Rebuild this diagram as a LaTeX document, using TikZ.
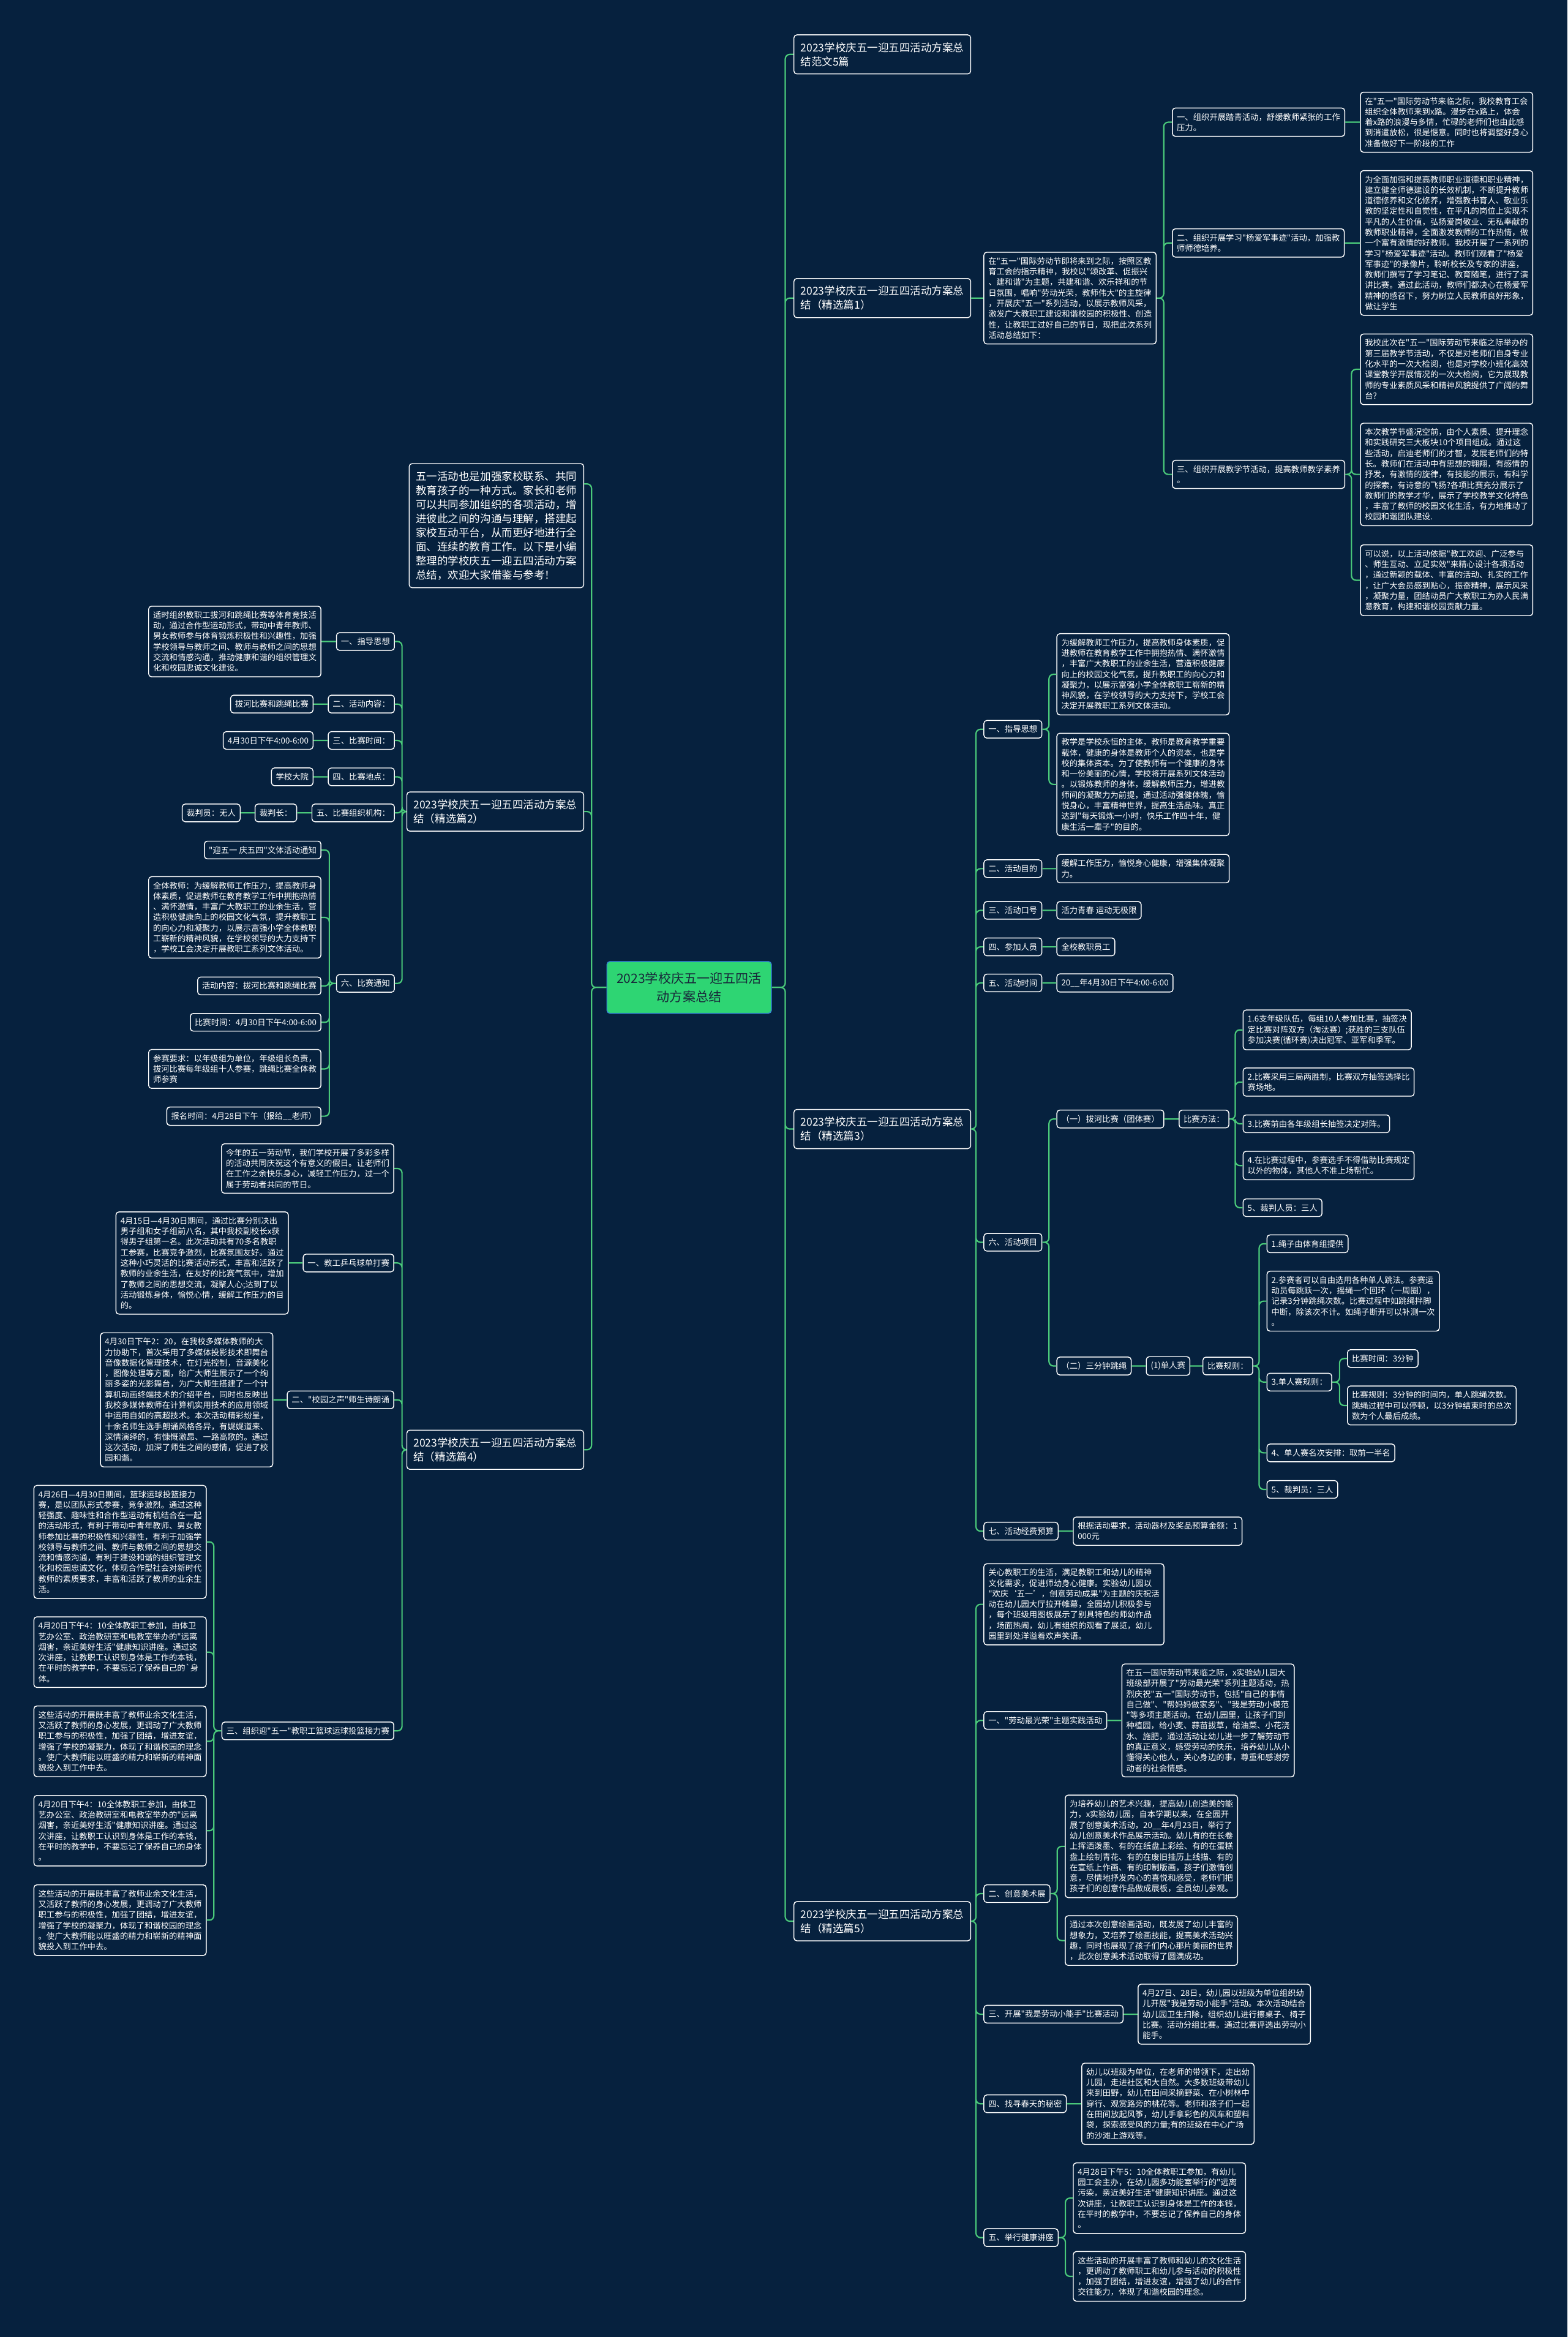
\documentclass[tikz,border=0pt]{standalone}
\usepackage{fontspec}
\setmainfont{Noto Sans CJK SC}[Ligatures=TeXOff]
\usepackage{xcolor}
\usepackage{tikz}
\usetikzlibrary{positioning}
\definecolor{bgnavy}{RGB}{6,33,62}
\definecolor{linkgreen}{RGB}{74,201,122}
\definecolor{rootgreen}{RGB}{46,213,115}
\definecolor{rootedge}{RGB}{52,140,210}
\definecolor{roottext}{RGB}{24,40,58}
\tikzset{leaf node/.style={draw=white,fill=bgnavy,text=white,rounded corners=2mm,line width=0.6mm,align=left,inner xsep=3mm,inner ysep=3.4mm,font=\fontsize{15.6pt}{20.2pt}\selectfont},
topic node/.style={leaf node,inner xsep=4.5mm,inner ysep=5mm,font=\fontsize{20.5pt}{27pt}\selectfont},
root node/.style={fill=rootgreen,draw=rootedge,text=roottext,rounded corners=2mm,line width=0.6mm,align=center,inner xsep=6.5mm,inner ysep=7mm,font=\fontsize{24.7pt}{35.9pt}\selectfont},
link/.style={draw=linkgreen,line width=0.9mm,rounded corners=3mm},}

\begin{document}
\begin{tikzpicture}[x=1mm,y=-1mm]
	\fill[bgnavy] (0,0) rectangle (1052,1568);

	\node[root node] (root) at (462.5,662.5) {2023学校庆五一迎五四活\\动方案总结};

	% right side
	\node[topic node,anchor=west] (t1) at (532.5,36.5) {2023学校庆五一迎五四活动方案总\\结范文5篇};
	\node[topic node,anchor=west] (t2) at (532.5,200) {2023学校庆五一迎五四活动方案总\\结（精选篇1）};
	\node[topic node,anchor=west] (t3) at (532.5,757.5) {2023学校庆五一迎五四活动方案总\\结（精选篇3）};
	\node[topic node,anchor=west] (t5) at (532.5,1289) {2023学校庆五一迎五四活动方案总\\结（精选篇5）};

	% left side
	\node[topic node,anchor=east] (intro) at (392,352.7) {五一活动也是加强家校联系、共同\\教育孩子的一种方式。家长和老师\\可以共同参加组织的各项活动，增\\进彼此之间的沟通与理解，搭建起\\家校互动平台，从而更好地进行全\\面、连续的教育工作。以下是小编\\整理的学校庆五一迎五四活动方案\\总结，欢迎大家借鉴与参考！};
	\node[topic node,anchor=east] (l2) at (392,544.5) {2023学校庆五一迎五四活动方案总\\结（精选篇2）};
	\node[topic node,anchor=east] (l4) at (392,972.7) {2023学校庆五一迎五四活动方案总\\结（精选篇4）};

	\begin{scope}
	\node[leaf node,anchor=west] (p1) at (660,200) {在"五一"国际劳动节即将来到之际，按照区教\\育工会的指示精神，我校以"颂改革、促振兴\\、建和谐"为主题，共建和谐、欢乐祥和的节\\日氛围，唱响"劳动光荣，教师伟大"的主旋律\\，开展庆"五一"系列活动，以展示教师风采，\\激发广大教职工建设和谐校园的积极性、创造\\性，让教职工过好自己的节日，现把此次系列\\活动总结如下：};
	\node[leaf node,anchor=west] (a1) at (786.5,82) {一、组织开展踏青活动，舒缓教师紧张的工作\\压力。};
	\node[leaf node,anchor=west] (a2) at (786.5,163) {二、组织开展学习"杨爱军事迹"活动，加强教\\师师德培养。};
	\node[leaf node,anchor=west] (a3) at (786.5,318.3) {三、组织开展教学节活动，提高教师教学素养\\。};
	\node[leaf node,anchor=west] (b1) at (912.7,82) {在"五一"国际劳动节来临之际，我校教育工会\\组织全体教师来到x路。漫步在x路上，体会\\着x路的浪漫与多情，忙碌的老师们也由此感\\到消遣放松，很是惬意。同时也将调整好身心\\准备做好下一阶段的工作};
	\node[leaf node,anchor=west] (b2) at (912.7,163) {为全面加强和提高教师职业道德和职业精神，\\建立健全师德建设的长效机制，不断提升教师\\道德修养和文化修养，增强教书育人、敬业乐\\教的坚定性和自觉性，在平凡的岗位上实现不\\平凡的人生价值，弘扬爱岗敬业、无私奉献的\\教师职业精神，全面激发教师的工作热情，做\\一个富有激情的好教师。我校开展了一系列的\\学习"杨爱军事迹"活动。教师们观看了"杨爱\\军事迹"的录像片，聆听校长及专家的讲座，\\教师们撰写了学习笔记、教育随笔，进行了演\\讲比赛。通过此活动，教师们都决心在杨爱军\\精神的感召下，努力树立人民教师良好形象，\\做让学生};
	\node[leaf node,anchor=west] (b3) at (912.7,247.8) {我校此次在"五一"国际劳动节来临之际举办的\\第三届教学节活动，不仅是对老师们自身专业\\化水平的一次大检阅，也是对学校小班化高效\\课堂教学开展情况的一次大检阅，它为展现教\\师的专业素质风采和精神风貌提供了广阔的舞\\台?};
	\node[leaf node,anchor=west] (b4) at (912.7,318.3) {本次教学节盛况空前，由个人素质、提升理念\\和实践研究三大板块10个项目组成。通过这\\些活动，启迪老师们的才智，发展老师们的特\\长。教师们在活动中有思想的翱翔，有感情的\\抒发，有激情的旋律，有技能的展示，有科学\\的探索，有诗意的飞扬?各项比赛充分展示了\\教师们的教学才华，展示了学校教学文化特色\\，丰富了教师的校园文化生活，有力地推动了\\校园和谐团队建设.};
	\node[leaf node,anchor=west] (b5) at (912.7,389.3) {可以说，以上活动依据"教工欢迎、广泛参与\\、师生互动、立足实效"来精心设计各项活动\\，通过新颖的载体、丰富的活动、扎实的工作\\，让广大会员感到贴心，振奋精神，展示风采\\，凝聚力量，团结动员广大教职工为办人民满\\意教育，构建和谐校园贡献力量。};
	\end{scope}

	\begin{scope}
	\node[leaf node,anchor=west] (c1) at (660,489.3) {一、指导思想};
	\node[leaf node,anchor=west] (k1) at (709,452.4) {为缓解教师工作压力，提高教师身体素质，促\\进教师在教育教学工作中拥抱热情、满怀激情\\，丰富广大教职工的业余生活，营造积极健康\\向上的校园文化气氛，提升教职工的向心力和\\凝聚力，以展示富强小学全体教职工崭新的精\\神风貌，在学校领导的大力支持下，学校工会\\决定开展教职工系列文体活动。};
	\node[leaf node,anchor=west] (k2) at (709,526.3) {教学是学校永恒的主体，教师是教育教学重要\\载体，健康的身体是教师个人的资本，也是学\\校的集体资本。为了使教师有一个健康的身体\\和一份美丽的心情，学校将开展系列文体活动\\。以锻炼教师的身体，缓解教师压力，增进教\\师间的凝聚力为前提，通过活动强健体魄，愉\\悦身心，丰富精神世界，提高生活品味。真正\\达到"每天锻炼一小时，快乐工作四十年，健\\康生活一辈子"的目的。};
	\node[leaf node,anchor=west] (c2) at (660,582.8) {二、活动目的};
	\node[leaf node,anchor=west] (k3) at (709,582.8) {缓解工作压力，愉悦身心健康，增强集体凝聚\\力。};
	\node[leaf node,anchor=west] (c3) at (660,610.8) {三、活动口号};
	\node[leaf node,anchor=west] (k4) at (709,610.8) {活力青春 运动无极限};
	\node[leaf node,anchor=west] (c4) at (660,635.3) {四、参加人员};
	\node[leaf node,anchor=west] (k5) at (709,635.3) {全校教职员工};
	\node[leaf node,anchor=west] (c5) at (660,659.5) {五、活动时间};
	\node[leaf node,anchor=west] (k6) at (709,659.5) {20\_\_年4月30日下午4:00-6:00};
	\node[leaf node,anchor=west] (c6) at (660,833.5) {六、活动项目};
	\node[leaf node,anchor=west] (d1) at (709,750.8) {（一）拔河比赛（团体赛）};
	\node[leaf node,anchor=west] (m0) at (791,750.8) {比赛方法：};
	\node[leaf node,anchor=west] (r1) at (834,691) {1.6支年级队伍，每组10人参加比赛，抽签决\\定比赛对阵双方（淘汰赛）;获胜的三支队伍\\参加决赛(循环赛)决出冠军、亚军和季军。};
	\node[leaf node,anchor=west] (r2) at (834,726) {2.比赛采用三局两胜制，比赛双方抽签选择比\\赛场地。};
	\node[leaf node,anchor=west] (r3) at (834,754) {3.比赛前由各年级组长抽签决定对阵。};
	\node[leaf node,anchor=west] (r4) at (834,782) {4.在比赛过程中，参赛选手不得借助比赛规定\\以外的物体，其他人不准上场帮忙。};
	\node[leaf node,anchor=west] (r5) at (834,810.3) {5、裁判人员：三人};
	\node[leaf node,anchor=west] (d2) at (709,916.5) {（二）三分钟跳绳};
	\node[leaf node,anchor=west] (j1) at (769,916.5) {(1)单人赛};
	\node[leaf node,anchor=west] (j2) at (807,916.5) {比赛规则：};
	\node[leaf node,anchor=west] (q1) at (850,834.5) {1.绳子由体育组提供};
	\node[leaf node,anchor=west] (q2) at (850,873) {2.参赛者可以自由选用各种单人跳法。参赛运\\动员每跳跃一次，摇绳一个回环（一周圈），\\记录3分钟跳绳次数。比赛过程中如跳绳拌脚\\中断，除该次不计。如绳子断开可以补测一次\\。};
	\node[leaf node,anchor=west] (q3) at (850,927.3) {3.单人赛规则：};
	\node[leaf node,anchor=west] (q6) at (904,911.5) {比赛时间：3分钟};
	\node[leaf node,anchor=west] (q7) at (904,943) {比赛规则：3分钟的时间内，单人跳绳次数。\\跳绳过程中可以停顿，以3分钟结束时的总次\\数为个人最后成绩。};
	\node[leaf node,anchor=west] (q4) at (850,974.8) {4、单人赛名次安排：取前一半名};
	\node[leaf node,anchor=west] (q5) at (850,999.3) {5、裁判员：三人};
	\node[leaf node,anchor=west] (c7) at (660,1027.3) {七、活动经费预算};
	\node[leaf node,anchor=west] (k7) at (720,1027.3) {根据活动要求，活动器材及奖品预算金额：1\\000元};
	\end{scope}

	\begin{scope}
	\node[leaf node,anchor=west] (e0) at (660,1076.4) {关心教职工的生活，满足教职工和幼儿的精神\\文化需求，促进师幼身心健康。实验幼儿园以\\"欢庆‘五一’，创意劳动成果"为主题的庆祝活\\动在幼儿园大厅拉开帷幕，全园幼儿积极参与\\，每个班级用图板展示了别具特色的师幼作品\\，场面热闹，幼儿有组织的观看了展览，幼儿\\园里到处洋溢着欢声笑语。};
	\node[leaf node,anchor=west] (e1) at (660,1154.3) {一、"劳动最光荣"主题实践活动};
	\node[leaf node,anchor=west] (h1) at (752.6,1154.3) {在五一国际劳动节来临之际，x实验幼儿园大\\班级部开展了"劳动最光荣"系列主题活动，热\\烈庆祝"五一"国际劳动节，包括"自己的事情\\自己做"、"帮妈妈做家务"、"我是劳动小模范\\"等多项主题活动。在幼儿园里，让孩子们到\\种植园，给小麦、蒜苗拔草，给油菜、小花浇\\水、施肥，通过活动让幼儿进一步了解劳动节\\的真正意义，感受劳动的快乐，培养幼儿从小\\懂得关心他人，关心身边的事，尊重和感谢劳\\动者的社会情感。};
	\node[leaf node,anchor=west] (e2) at (660,1270.5) {二、创意美术展};
	\node[leaf node,anchor=west] (h2) at (714.6,1238.8) {为培养幼儿的艺术兴趣，提高幼儿创造美的能\\力，x实验幼儿园，自本学期以来，在全园开\\展了创意美术活动，20\_\_年4月23日，举行了\\幼儿创意美术作品展示活动。幼儿有的在长卷\\上挥洒泼墨、有的在纸盘上彩绘、有的在蛋糕\\盘上绘制青花、有的在废旧挂历上线描、有的\\在宣纸上作画、有的印制版画，孩子们激情创\\意，尽情地抒发内心的喜悦和感受，老师们把\\孩子们的创意作品做成展板，全员幼儿参观。};
	\node[leaf node,anchor=west] (h3) at (714.6,1302) {通过本次创意绘画活动，既发展了幼儿丰富的\\想象力，又培养了绘画技能，提高美术活动兴\\趣，同时也展现了孩子们内心那片美丽的世界\\，此次创意美术活动取得了圆满成功。};
	\node[leaf node,anchor=west] (e3) at (660,1351.4) {三、开展"我是劳动小能手"比赛活动};
	\node[leaf node,anchor=west] (h4) at (763.5,1351.4) {4月27日、28日，幼儿园以班级为单位组织幼\\儿开展"我是劳动小能手"活动。本次活动结合\\幼儿园卫生扫除，组织幼儿进行擦桌子、椅子\\比赛。活动分组比赛。通过比赛评选出劳动小\\能手。};
	\node[leaf node,anchor=west] (e4) at (660,1411.5) {四、找寻春天的秘密};
	\node[leaf node,anchor=west] (h5) at (725.7,1411.5) {幼儿以班级为单位，在老师的带领下，走出幼\\儿园，走进社区和大自然。大多数班级带幼儿\\来到田野，幼儿在田间采摘野菜、在小树林中\\穿行、观赏路旁的桃花等。老师和孩子们一起\\在田间放起风筝，幼儿手拿彩色的风车和塑料\\袋，探索感受风的力量;有的班级在中心广场\\的沙滩上游戏等。};
	\node[leaf node,anchor=west] (e5) at (660,1501.3) {五、举行健康讲座};
	\node[leaf node,anchor=west] (h6) at (720,1474.8) {4月28日下午5：10全体教职工参加，有幼儿\\园工会主办，在幼儿园多功能室举行的"远离\\污染，亲近美好生活"健康知识讲座。通过这\\次讲座，让教职工认识到身体是工作的本钱，\\在平时的教学中，不要忘记了保养自己的身体\\。};
	\node[leaf node,anchor=west] (h7) at (720,1527.3) {这些活动的开展丰富了教师和幼儿的文化生活\\，更调动了教师职工和幼儿参与活动的积极性\\，加强了团结，增进友谊，增强了幼儿的合作\\交往能力，体现了和谐校园的理念。};
	\end{scope}

	\begin{scope}
	\node[leaf node,anchor=east] (f1) at (265,430.4) {一、指导思想};
	\node[leaf node,anchor=east] (n1) at (215.7,430.4) {适时组织教职工拔河和跳绳比赛等体育竞技活\\动，通过合作型运动形式，带动中青年教师、\\男女教师参与体育锻炼积极性和兴趣性，加强\\学校领导与教师之间、教师与教师之间的思想\\交流和情感沟通，推动健康和谐的组织管理文\\化和校园忠诚文化建设。};
	\node[leaf node,anchor=east] (f2) at (265,472.4) {二、活动内容：};
	\node[leaf node,anchor=east] (n2) at (210.4,472.4) {拔河比赛和跳绳比赛};
	\node[leaf node,anchor=east] (f3) at (265,496.8) {三、比赛时间：};
	\node[leaf node,anchor=east] (n3) at (210.4,496.8) {4月30日下午4:00-6:00};
	\node[leaf node,anchor=east] (f4) at (265,521.2) {四、比赛地点：};
	\node[leaf node,anchor=east] (n4) at (210.4,521.2) {学校大院};
	\node[leaf node,anchor=east] (f5) at (265,545.4) {五、比赛组织机构：};
	\node[leaf node,anchor=east] (n5) at (199.4,545.4) {裁判长：};
	\node[leaf node,anchor=east] (n6) at (161.5,545.4) {裁判员：无人};
	\node[leaf node,anchor=east] (f6) at (265,659.8) {六、比赛通知};
	\node[leaf node,anchor=east] (v1) at (215.7,570.3) {"迎五一 庆五四"文体活动通知};
	\node[leaf node,anchor=east] (v2) at (215.7,615.5) {全体教师：为缓解教师工作压力，提高教师身\\体素质，促进教师在教育教学工作中拥抱热情\\、满怀激情，丰富广大教职工的业余生活，营\\造积极健康向上的校园文化气氛，提升教职工\\的向心力和凝聚力，以展示富强小学全体教职\\工崭新的精神风貌，在学校领导的大力支持下\\，学校工会决定开展教职工系列文体活动。};
	\node[leaf node,anchor=east] (v3) at (215.7,661.5) {活动内容：拔河比赛和跳绳比赛};
	\node[leaf node,anchor=east] (v4) at (215.7,685.9) {比赛时间：4月30日下午4:00-6:00};
	\node[leaf node,anchor=east] (v5) at (215.7,717.2) {参赛要求：以年级组为单位，年级组长负责，\\拔河比赛每年级组十人参赛，跳绳比赛全体教\\师参赛};
	\node[leaf node,anchor=east] (v6) at (215.7,748.9) {报名时间：4月28日下午（报给\_\_老师）};
	\end{scope}

	\begin{scope}
	\node[leaf node,anchor=east] (g0) at (264.6,784) {今年的五一劳动节，我们学校开展了多彩多样\\的活动共同庆祝这个有意义的假日。让老师们\\在工作之余快乐身心，减轻工作压力，过一个\\属于劳动者共同的节日。};
	\node[leaf node,anchor=east] (g1) at (264.6,847.4) {一、教工乒乓球单打赛};
	\node[leaf node,anchor=east] (w1) at (193.8,847.4) {4月15日—4月30日期间，通过比赛分别决出\\男子组和女子组前八名，其中我校副校长x获\\得男子组第一名。此次活动共有70多名教职\\工参赛，比赛竞争激烈，比赛氛围友好。通过\\这种小巧灵活的比赛活动形式，丰富和活跃了\\教师的业余生活，在友好的比赛气氛中，增加\\了教师之间的思想交流，凝聚人心;达到了以\\活动锻炼身体，愉悦心情，缓解工作压力的目\\的。};
	\node[leaf node,anchor=east] (g2) at (264.6,939.2) {二、"校园之声"师生诗朗诵};
	\node[leaf node,anchor=east] (w2) at (183.4,939.2) {4月30日下午2：20，在我校多媒体教师的大\\力协助下，首次采用了多媒体投影技术即舞台\\音像数据化管理技术，在灯光控制，音源美化\\，图像处理等方面，给广大师生展示了一个绚\\丽多姿的光影舞台，为广大师生搭建了一个计\\算机动画终端技术的介绍平台，同时也反映出\\我校多媒体教师在计算机实用技术的应用领域\\中运用自如的高超技术。本次活动精彩纷呈，\\十余名师生选手朗诵风格各异，有娓娓道来、\\深情演绎的，有慷慨激昂、一路高歌的。通过\\这次活动，加深了师生之间的感情，促进了校\\园和谐。};
	\node[leaf node,anchor=east] (g3) at (264.6,1161.3) {三、组织迎"五一"教职工篮球运球投篮接力赛};
	\node[leaf node,anchor=east] (w3) at (138.7,1034.5) {4月26日—4月30日期间，篮球运球投篮接力\\赛，是以团队形式参赛，竞争激烈。通过这种\\轻强度、趣味性和合作型运动有机结合在一起\\的活动形式，有利于带动中青年教师、男女教\\师参加比赛的积极性和兴趣性，有利于加强学\\校领导与教师之间、教师与教师之间的思想交\\流和情感沟通，有利于建设和谐的组织管理文\\化和校园忠诚文化，体现合作型社会对新时代\\教师的素质要求，丰富和活跃了教师的业余生\\活。};
	\node[leaf node,anchor=east] (w4) at (138.7,1108.5) {4月20日下午4：10全体教职工参加，由体卫\\艺办公室、政治教研室和电教室举办的"远离\\烟害，亲近美好生活"健康知识讲座。通过这\\次讲座，让教职工认识到身体是工作的本钱，\\在平时的教学中，不要忘记了保养自己的\textasciigrave 身\\体。};
	\node[leaf node,anchor=east] (w5) at (138.7,1168.3) {这些活动的开展既丰富了教师业余文化生活，\\又活跃了教师的身心发展，更调动了广大教师\\职工参与的积极性，加强了团结，增进友谊，\\增强了学校的凝聚力，体现了和谐校园的理念\\。使广大教师能以旺盛的精力和崭新的精神面\\貌投入到工作中去。};
	\node[leaf node,anchor=east] (w6) at (138.7,1228.3) {4月20日下午4：10全体教职工参加，由体卫\\艺办公室、政治教研室和电教室举办的"远离\\烟害，亲近美好生活"健康知识讲座。通过这\\次讲座，让教职工认识到身体是工作的本钱，\\在平时的教学中，不要忘记了保养自己的身体\\。};
	\node[leaf node,anchor=east] (w7) at (138.7,1288.3) {这些活动的开展既丰富了教师业余文化生活，\\又活跃了教师的身心发展，更调动了广大教师\\职工参与的积极性，加强了团结，增进友谊，\\增强了学校的凝聚力，体现了和谐校园的理念\\。使广大教师能以旺盛的精力和崭新的精神面\\貌投入到工作中去。};
	\end{scope}

	% spines
	\coordinate (rs) at (527,0);
	\coordinate (ls) at (397,0);
	\coordinate (s1) at (781,0);
	\coordinate (s2) at (907,0);
	\coordinate (s3) at (655,0);
	\coordinate (s4) at (704,0);
	\coordinate (s5) at (829,0);
	\coordinate (s6) at (845,0);
	\coordinate (s7) at (899,0);
	\coordinate (s8) at (709.5,0);
	\coordinate (s9) at (715,0);
	\coordinate (s10) at (269.8,0);
	\coordinate (s11) at (221,0);
	\coordinate (s12) at (143.5,0);

	\path[link]
	(root.east) -- (root.east -| rs) |- (t1.west)
	(root.east) -- (root.east -| rs) |- (t2.west)
	(root.east) -- (root.east -| rs) |- (t3.west)
	(root.east) -- (root.east -| rs) |- (t5.west)
	(root.west) -- (root.west -| ls) |- ([yshift=28mm]intro.east)
	(root.west) -- (root.west -| ls) |- (l2.east)
	(root.west) -- (root.west -| ls) |- (l4.east)
	;

	\path[link]
	(t2.east) -- (p1.west)
	(p1.east) -- (p1.east -| s1) |- (a1.west)
	(p1.east) -- (p1.east -| s1) |- (a2.west)
	(p1.east) -- (p1.east -| s1) |- (a3.west)
	(a1.east) -- (b1.west)
	(a2.east) -- (b2.west)
	(a3.east) -- (a3.east -| s2) |- (b3.west)
	(a3.east) -- (a3.east -| s2) |- (b4.west)
	(a3.east) -- (a3.east -| s2) |- (b5.west)
	;

	\path[link]
	(t3.east) -- (t3.east -| s3) |- (c1.west)
	(t3.east) -- (t3.east -| s3) |- (c2.west)
	(t3.east) -- (t3.east -| s3) |- (c3.west)
	(t3.east) -- (t3.east -| s3) |- (c4.west)
	(t3.east) -- (t3.east -| s3) |- (c5.west)
	(t3.east) -- (t3.east -| s3) |- (c6.west)
	(t3.east) -- (t3.east -| s3) |- (c7.west)
	(c1.east) -- (c1.east -| s4) |- (k1.west)
	(c1.east) -- (c1.east -| s4) |- (k2.west)
	(c2.east) -- (k3.west)
	(c3.east) -- (k4.west)
	(c4.east) -- (k5.west)
	(c5.east) -- (k6.west)
	(c7.east) -- (k7.west)
	(c6.east) -- (c6.east -| s4) |- (d1.west)
	(c6.east) -- (c6.east -| s4) |- (d2.west)
	(d1.east) -- (m0.west)
	(m0.east) -- (m0.east -| s5) |- (r1.west)
	(m0.east) -- (m0.east -| s5) |- (r2.west)
	(m0.east) -- (m0.east -| s5) |- (r3.west)
	(m0.east) -- (m0.east -| s5) |- (r4.west)
	(m0.east) -- (m0.east -| s5) |- (r5.west)
	(d2.east) -- (j1.west)
	(j1.east) -- (j2.west)
	(j2.east) -- (j2.east -| s6) |- (q1.west)
	(j2.east) -- (j2.east -| s6) |- (q2.west)
	(j2.east) -- (j2.east -| s6) |- (q3.west)
	(j2.east) -- (j2.east -| s6) |- (q4.west)
	(j2.east) -- (j2.east -| s6) |- (q5.west)
	(q3.east) -- (q3.east -| s7) |- (q6.west)
	(q3.east) -- (q3.east -| s7) |- (q7.west)
	;

	\path[link]
	(t5.east) -- (t5.east -| s3) |- (e0.west)
	(t5.east) -- (t5.east -| s3) |- (e1.west)
	(t5.east) -- (t5.east -| s3) |- (e2.west)
	(t5.east) -- (t5.east -| s3) |- (e3.west)
	(t5.east) -- (t5.east -| s3) |- (e4.west)
	(t5.east) -- (t5.east -| s3) |- (e5.west)
	(e1.east) -- (h1.west)
	(e2.east) -- (e2.east -| s8) |- (h2.west)
	(e2.east) -- (e2.east -| s8) |- (h3.west)
	(e3.east) -- (h4.west)
	(e4.east) -- (h5.west)
	(e5.east) -- (e5.east -| s9) |- (h6.west)
	(e5.east) -- (e5.east -| s9) |- (h7.west)
	;

	\path[link]
	(l2.west) -- (l2.west -| s10) |- (f1.east)
	(l2.west) -- (l2.west -| s10) |- (f2.east)
	(l2.west) -- (l2.west -| s10) |- (f3.east)
	(l2.west) -- (l2.west -| s10) |- (f4.east)
	(l2.west) -- (l2.west -| s10) |- (f5.east)
	(l2.west) -- (l2.west -| s10) |- (f6.east)
	(f1.west) -- (n1.east)
	(f2.west) -- (n2.east)
	(f3.west) -- (n3.east)
	(f4.west) -- (n4.east)
	(f5.west) -- (n5.east)
	(n5.west) -- (n6.east)
	(f6.west) -- (f6.west -| s11) |- (v1.east)
	(f6.west) -- (f6.west -| s11) |- (v2.east)
	(f6.west) -- (f6.west -| s11) |- (v3.east)
	(f6.west) -- (f6.west -| s11) |- (v4.east)
	(f6.west) -- (f6.west -| s11) |- (v5.east)
	(f6.west) -- (f6.west -| s11) |- (v6.east)
	;

	\path[link]
	(l4.west) -- (l4.west -| s10) |- (g0.east)
	(l4.west) -- (l4.west -| s10) |- (g1.east)
	(l4.west) -- (l4.west -| s10) |- (g2.east)
	(l4.west) -- (l4.west -| s10) |- (g3.east)
	(g1.west) -- (w1.east)
	(g2.west) -- (w2.east)
	(g3.west) -- (g3.west -| s12) |- (w3.east)
	(g3.west) -- (g3.west -| s12) |- (w4.east)
	(g3.west) -- (g3.west -| s12) |- (w5.east)
	(g3.west) -- (g3.west -| s12) |- (w6.east)
	(g3.west) -- (g3.west -| s12) |- (w7.east)
	;
\end{tikzpicture}
\end{document}
